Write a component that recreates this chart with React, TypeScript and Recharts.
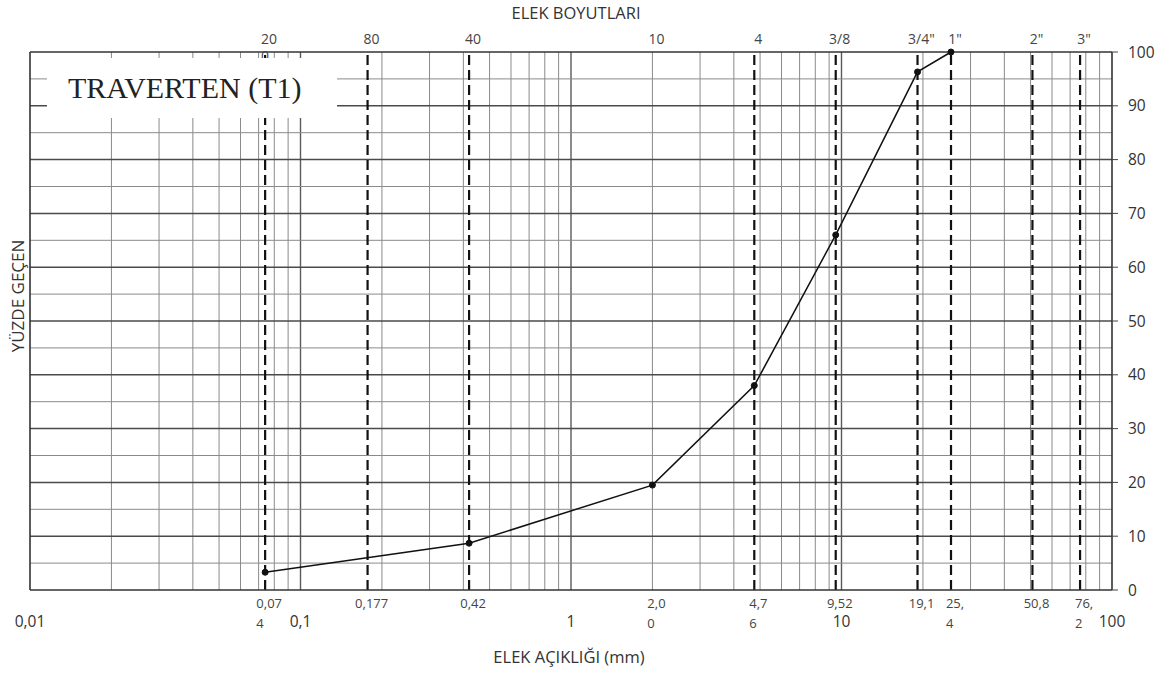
import React from "react";
import { LineChart, Line, XAxis, YAxis, ReferenceLine } from "recharts";

// sieve openings (mm) and their names
const sieveSizes = [0.074, 0.177, 0.42, 2.0, 4.76, 9.52, 19.1, 25.4, 50.8, 76.2];
const sieveNames = [["20", "0"], ["80"], ["40"], ["10"], ["4"], ["3/8"], ['3/4"'], ['1"'], ['2"'], ['3"']];
const openingLabels = [
  ["0,07", "4"], ["0,177"], ["0,42"], ["2,0", "0"], ["4,7", "6"],
  ["9,52"], ["19,1"], ["25,", "4"], ["50,8"], ["76,", "2"],
];
const dashedSieves = [0.074, 0.177, 0.42, 4.76, 9.52, 19.1, 25.4, 50.8, 76.2];

const decadeTicks = [0.01, 0.1, 1, 10, 100];
const decadeLabels = ["0,01", "0,1", "1", "10", "100"];
const yTicks = [0, 10, 20, 30, 40, 50, 60, 70, 80, 90, 100];

// gradation test result
const testSizes = [0.074, 0.42, 2.0, 4.76, 9.52, 19.1, 25.4];
const percentPassing = [3.3, 8.7, 19.5, 38, 66, 96.3, 100];

const data = testSizes.map((size, i) => ({ size, pass: percentPassing[i] }));

// log paper grid: 2..9 inside each decade
const minorX: number[] = [];
[0.01, 0.1, 1, 10].forEach((d) => {
  for (let m = 2; m <= 9; m++) minorX.push(+(d * m).toPrecision(3));
});
const halfY = [5, 15, 25, 35, 45, 55, 65, 75, 85, 95];
const majorY = [10, 20, 30, 40, 50, 60, 70, 80, 90];

const xTicks = [...decadeTicks, ...sieveSizes].sort((a, b) => a - b);

const FONT = "'Open Sans', sans-serif";

const charWidth = (c: string) => (c === "," ? 0.25 : c === "/" ? 0.37 : c === '"' ? 0.4 : 0.572);
const textWidth = (s: string, size: number) =>
  s.split("").reduce((w, c) => w + charWidth(c) * size, 0);

function SizeTick(props: any) {
  const { x, payload } = props;
  const v = payload.value;
  const d = decadeTicks.indexOf(v);
  if (d >= 0) {
    return (
      <text x={x} y={627} textAnchor="middle" fontSize={15.5} fill="#333" fontFamily={FONT}>
        {decadeLabels[d]}
      </text>
    );
  }
  const i = sieveSizes.indexOf(v);
  if (i < 0) return <g />;
  const bottom = openingLabels[i];
  const top = sieveNames[i];
  const bx = x + 4 - textWidth(bottom[0], 13) / 2;
  const tx = x + 4 - textWidth(top[0], 14) / 2;
  return (
    <g fontFamily={FONT}>
      {bottom.map((s, k) => (
        <text key={"b" + k} x={bx} y={608 + k * 20} fontSize={13} fill="#444">
          {s}
        </text>
      ))}
      {top.map((s, k) => (
        <text key={"t" + k} x={tx} y={44 + k * 17} fontSize={14} fill="#444">
          {s}
        </text>
      ))}
    </g>
  );
}

export default function App() {
  return (
    <div style={{ position: "absolute", left: 0, top: 0, width: 1169, height: 675, background: "#fff" }}>
      <LineChart
        width={1169}
        height={675}
        data={data}
        margin={{ top: 52, right: 0, bottom: 0, left: 30 }}
      >
        <XAxis
          dataKey="size"
          type="number"
          scale="log"
          domain={[0.01, 100]}
          allowDataOverflow
          ticks={xTicks}
          interval={0}
          height={85}
          axisLine={false}
          tickLine={false}
          tick={SizeTick}
        />
        <YAxis
          orientation="right"
          type="number"
          domain={[0, 100]}
          ticks={yTicks}
          width={57}
          axisLine={false}
          tickSize={6}
          tickMargin={10}
          tickLine={{ stroke: "#444" }}
          tick={{ fontSize: 15.5, fill: "#333", fontFamily: FONT }}
        />

        {minorX.map((v) => (
          <ReferenceLine key={"mx" + v} x={v} stroke="#8a8a8a" strokeWidth={1} />
        ))}
        {[0.1, 1, 10].map((v) => (
          <ReferenceLine key={"dx" + v} x={v} stroke="#5a5a5a" strokeWidth={1.4} />
        ))}
        {halfY.map((v) => (
          <ReferenceLine key={"hy" + v} y={v} stroke="#8a8a8a" strokeWidth={1} />
        ))}
        {majorY.map((v) => (
          <ReferenceLine key={"my" + v} y={v} stroke="#4a4a4a" strokeWidth={1.5} />
        ))}

        {dashedSieves.map((v) => (
          <ReferenceLine key={"s" + v} x={v} stroke="#111" strokeWidth={2.2} strokeDasharray="10 5" />
        ))}

        <ReferenceLine x={0.01} stroke="#333" strokeWidth={1.6} />
        <ReferenceLine x={100} stroke="#333" strokeWidth={1.6} />
        <ReferenceLine y={0} stroke="#333" strokeWidth={1.6} />
        <ReferenceLine y={100} stroke="#333" strokeWidth={1.6} />

        <Line
          type="linear"
          dataKey="pass"
          stroke="#111"
          strokeWidth={1.5}
          dot={{ r: 3, fill: "#111", stroke: "#111", strokeWidth: 1 }}
          isAnimationActive={false}
        />
      </LineChart>

      <div
        style={{
          position: "absolute",
          left: 47,
          top: 58,
          width: 290,
          height: 60,
          background: "#fff",
          fontFamily: "'Liberation Serif', 'Times New Roman', serif",
          fontSize: 30,
          color: "#222",
          lineHeight: "60px",
          paddingLeft: 21,
          boxSizing: "border-box",
          whiteSpace: "nowrap",
        }}
      >
        TRAVERTEN (T1)
      </div>

      <div
        style={{
          position: "absolute",
          left: 376,
          width: 400,
          top: 1,
          textAlign: "center",
          fontFamily: FONT,
          fontSize: 16.5,
          color: "#333",
        }}
      >
        ELEK BOYUTLARI
      </div>

      <div
        style={{
          position: "absolute",
          left: 369,
          width: 400,
          top: 645,
          textAlign: "center",
          fontFamily: FONT,
          fontSize: 16.5,
          color: "#333",
        }}
      >
        ELEK AÇIKLIĞI (mm)
      </div>

      <div
        style={{
          position: "absolute",
          left: 18 - 100,
          top: 296 - 12,
          width: 200,
          height: 24,
          lineHeight: "24px",
          textAlign: "center",
          transform: "rotate(-90deg)",
          fontFamily: FONT,
          fontSize: 17,
          color: "#333",
        }}
      >
        YÜZDE GEÇEN
      </div>
    </div>
  );
}
